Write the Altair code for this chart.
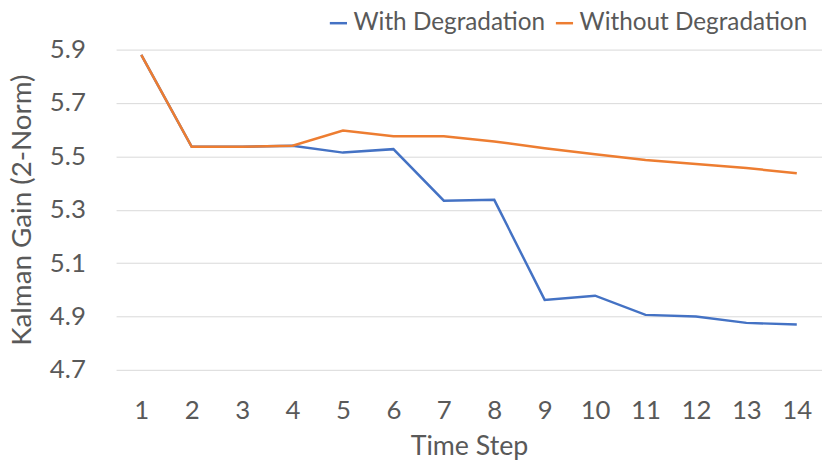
import altair as alt
import pandas as pd

steps = list(range(1, 15))
with_deg = [5.88, 5.536, 5.536, 5.54, 5.514, 5.527, 5.334, 5.337, 4.962, 4.978, 4.906, 4.900, 4.876, 4.870]
without_deg = [5.88, 5.536, 5.536, 5.54, 5.597, 5.575, 5.575, 5.556, 5.530, 5.508, 5.486, 5.471, 5.456, 5.437]
series_names = ["With Degradation", "Without Degradation"]
colors = ["#4472C4", "#ED7D31"]
y_ticks = [4.7, 4.9, 5.1, 5.3, 5.5, 5.7, 5.9]

rows = []
for s, v in zip(steps, with_deg):
    rows.append({"step": s, "value": v, "series": series_names[0]})
for s, v in zip(steps, without_deg):
    rows.append({"step": s, "value": v, "series": series_names[1]})
df = pd.DataFrame(rows)

FONT = "Lato"
TXT = "#595959"

chart = alt.Chart(df).mark_line(strokeWidth=2.5).encode(
    x=alt.X("step:O", title="Time Step",
            scale=alt.Scale(type="point", padding=0.5),
            axis=alt.Axis(labelAngle=0, ticks=False, domain=False, grid=False,
                          labelFontSize=26, labelColor=TXT, labelFont=FONT,
                          labelPadding=28, titleFontSize=27, titleColor=TXT,
                          titleFont=FONT, titleFontWeight="normal", titlePadding=10)),
    y=alt.Y("value:Q", title="Kalman Gain (2-Norm)",
            scale=alt.Scale(domain=[4.7, 5.9], nice=False, zero=False),
            axis=alt.Axis(values=y_ticks, format=".1f", ticks=False, domain=False,
                          grid=True, gridColor="#D9D9D9", gridWidth=1,
                          labelFontSize=26, labelColor=TXT, labelFont=FONT,
                          labelPadding=31, titleFontSize=28, titleColor=TXT,
                          titleFont=FONT, titleFontWeight="normal",
                          titleX=-94, titleBaseline="middle")),
    color=alt.Color("series:N", sort=series_names,
                    scale=alt.Scale(domain=series_names, range=colors),
                    legend=alt.Legend(title=None, orient="none", direction="horizontal",
                                      legendX=212, legendY=-39,
                                      symbolType="stroke", symbolSize=300,
                                      symbolStrokeWidth=2.5, labelFontSize=24.5,
                                      labelFont=FONT, labelColor=TXT, labelLimit=400,
                                      labelOffset=3, columnPadding=5, padding=0)),
).properties(
    width=712, height=323,
    padding={"left": 1, "top": 1, "right": 0, "bottom": 2},
).configure_view(stroke=None)

chart.save("out.html", embed_options={"renderer": "svg", "actions": False})
